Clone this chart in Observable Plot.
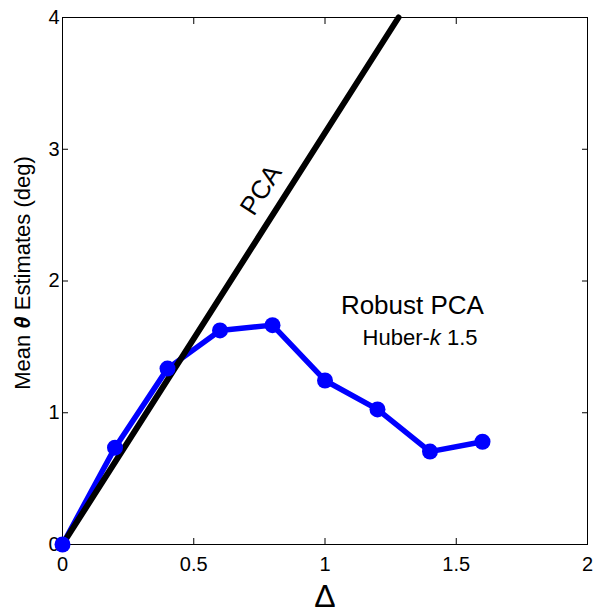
<!DOCTYPE html>
<html>
<head>
<meta charset="utf-8">
<script src="https://cdn.jsdelivr.net/npm/d3@7"></script>
<script src="https://cdn.jsdelivr.net/npm/@observablehq/plot@0.6"></script>
<style>
  html, body { margin: 0; padding: 0; background: #fff; }
  #chart { width: 593px; height: 612px; }
</style>
</head>
<body>
<div id="chart"></div>
<script>
// Robust PCA (Huber-k 1.5) mean theta estimates
const delta = [0, 0.2, 0.4, 0.6, 0.8, 1.0, 1.2, 1.4, 1.6];
const robustTheta = [0, 0.735, 1.335, 1.625, 1.665, 1.245, 1.025, 0.705, 0.78];
// PCA straight line endpoints
const pcaDelta = [0, 1.28];
const pcaTheta = [0, 4];
const xTicks = [0, 0.5, 1, 1.5, 2];
const yTicks = [0, 1, 2, 3, 4];
const labels = [
  {x: 0.757, y: 2.69, text: "PCA", size: 26, rotate: -57.5},
  {x: 1.333, y: 1.81, text: "Robust PCA", size: 26, rotate: 0},
  {x: 1.362, y: 1.57, text: "Huber-k 1.5", size: 22, rotate: 0}
];

const robust = delta.map((d, i) => ({delta: d, theta: robustTheta[i]}));
const pca = pcaDelta.map((d, i) => ({delta: d, theta: pcaTheta[i]}));

const font = "'Liberation Sans', Arial, Helvetica, sans-serif";
const fmt = d => String(d);

const chart = Plot.plot({
  width: 593,
  height: 612,
  marginLeft: 62,
  marginRight: 6,
  marginTop: 17,
  marginBottom: 68,
  style: {fontFamily: font, background: "white", color: "black"},
  x: {domain: [0, 2]},
  y: {domain: [0, 4]},
  marks: [
    Plot.frame({stroke: "black", strokeWidth: 1}),
    // inward ticks on all four sides
    Plot.axisX(xTicks, {anchor: "bottom", tickSize: 6, dy: -6, text: null, label: null, strokeWidth: 1}),
    Plot.axisX(xTicks, {anchor: "top", tickSize: 6, dy: 6, text: null, label: null, strokeWidth: 1}),
    Plot.axisY(yTicks, {anchor: "left", tickSize: 6, dx: 6, text: null, label: null, strokeWidth: 1}),
    Plot.axisY(yTicks, {anchor: "right", tickSize: 6, dx: -6, text: null, label: null, strokeWidth: 1}),
    // tick labels + axis labels
    Plot.axisX(xTicks, {anchor: "bottom", tickSize: 0, tickPadding: 12, tickFormat: fmt, fontSize: 20,
      label: "Δ", labelAnchor: "center", labelOffset: 62, labelArrow: false}),
    Plot.axisY(yTicks, {anchor: "left", tickSize: 0, tickPadding: 3, tickFormat: fmt, fontSize: 20,
      label: "Mean θ Estimates (deg)", labelAnchor: "center", labelOffset: 48, labelArrow: false}),
    Plot.line(robust, {x: "delta", y: "theta", stroke: "#0000ff", strokeWidth: 5.5, strokeLinejoin: "round"}),
    Plot.line(pca, {x: "delta", y: "theta", stroke: "black", strokeWidth: 6}),
    Plot.dot(robust, {x: "delta", y: "theta", r: 8, fill: "#0000ff", stroke: "none"}),
    Plot.text(labels, {x: "x", y: "y", text: "text", fontSize: d => d.size, rotate: d => d.rotate, fill: "black"})
  ]
});

document.getElementById("chart").appendChild(chart);

// styling touches: italic k, bold-italic theta, big delta
const svg = d3.select(chart);
svg.selectAll("text").each(function () {
  const t = d3.select(this);
  const s = this.textContent;
  if (s === "Huber-k 1.5") {
    t.text(null);
    t.append("tspan").text("Huber-");
    t.append("tspan").attr("font-style", "italic").text("k");
    t.append("tspan").text(" 1.5");
  } else if (s === "Mean θ Estimates (deg)") {
    const tr = t.attr("transform") || "";
    t.text(null).style("font-size", "22px").attr("transform", "translate(0,-8) " + tr);
    t.append("tspan").text("Mean ");
    t.append("tspan").style("font-style", "italic").style("font-weight", "bold").text("θ");
    t.append("tspan").text(" Estimates (deg)");
  } else if (s === "Δ") {
    t.style("font-size", "32px");
  }
});
</script>
</body>
</html>
